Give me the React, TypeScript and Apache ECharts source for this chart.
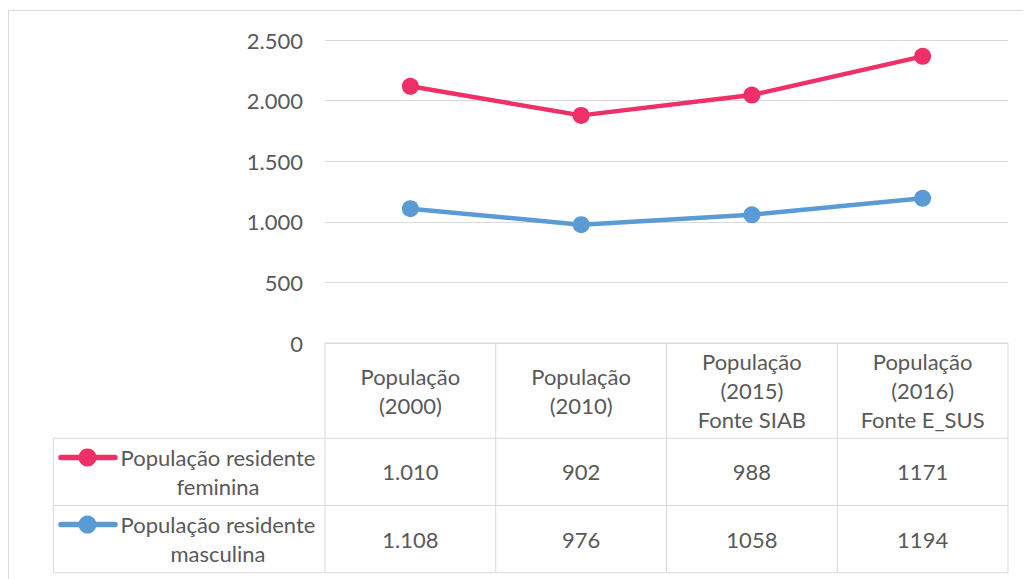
import React, { useEffect, useRef } from "react";
import * as echarts from "echarts";

const categories = [
  "População\n(2000)",
  "População\n(2010)",
  "População\n(2015)\nFonte SIAB",
  "População\n(2016)\nFonte E_SUS",
];
const feminina = [1010, 902, 988, 1171];
const masculina = [1108, 976, 1058, 1194];
// whether the source table shows a thousands separator for each column
const useSeparator = [true, true, false, false];
const femName = "População residente\nfeminina";
const mascName = "População residente\nmasculina";
const femColor = "#EE2F68";
const mascColor = "#5B9BD5";
const textColor = "#595959";
const lineColor = "#D9D9D9";
const FONT = "Lato";
const FS = 22;

const fmt = (v: number, sep: boolean) =>
  sep ? String(v).replace(/\B(?=(\d{3})+(?!\d))/g, ".") : String(v);

export default function App() {
  const ref = useRef<HTMLDivElement>(null);
  useEffect(() => {
    document.documentElement.style.overflow = "hidden";
    const chart = echarts.init(ref.current!, null, { renderer: "svg" });
    const gridLeft = 317;
    const gridTop = 32;
    const gridW = 683;
    const gridH = 303;
    const option: any = {
      animation: false,
      grid: { left: gridLeft, top: gridTop, width: gridW, height: gridH },
      xAxis: {
        type: "category",
        data: categories,
        boundaryGap: true,
        axisLine: { show: false },
        axisTick: { show: false },
        axisLabel: {
          interval: 0,
          margin: 47.5,
          verticalAlign: "middle",
          lineHeight: 29,
          color: textColor,
          fontFamily: FONT,
          fontSize: FS,
        },
      },
      yAxis: {
        type: "value",
        min: 0,
        max: 2500,
        interval: 500,
        axisLine: { show: false },
        axisTick: { show: false },
        splitLine: { lineStyle: { color: lineColor, width: 1 } },
        axisLabel: {
          margin: 22,
          color: textColor,
          fontFamily: FONT,
          fontSize: FS,
          formatter: (v: number) => fmt(v, true),
        },
      },
      series: [
        {
          name: mascName,
          type: "line",
          stack: "total",
          data: masculina,
          color: mascColor,
          symbol: "circle",
          symbolSize: 17,
          lineStyle: { width: 4.5, color: mascColor },
          itemStyle: { color: mascColor },
        },
        {
          name: femName,
          type: "line",
          stack: "total",
          data: feminina,
          color: femColor,
          symbol: "circle",
          symbolSize: 17,
          lineStyle: { width: 4.5, color: femColor },
          itemStyle: { color: femColor },
        },
      ],
    };
    chart.setOption(option);

    // table geometry
    const tableTop = gridTop + gridH;
    const headerBottom = 430.3;
    const rowH = 67.2;
    const legendLeft = 45.3;
    const centers = categories.map((_, i) =>
      chart.convertToPixel({ xAxisIndex: 0 }, i)
    );
    const band = centers.length > 1 ? centers[1] - centers[0] : gridW;
    const right = centers[centers.length - 1] + band / 2;
    const els: any[] = [];
    const ls = { stroke: lineColor, lineWidth: 1 };
    // outer chart border
    els.push({
      type: "rect",
      shape: { x: 0.5, y: 2.5, width: 1200, height: 800 },
      style: { fill: "none", stroke: lineColor, lineWidth: 1 },
      silent: true,
    });
    // table top line
    els.push({ type: "line", shape: { x1: gridLeft, y1: tableTop, x2: right, y2: tableTop }, style: ls });
    const rows = [
      { name: femName, color: femColor, data: feminina },
      { name: mascName, color: mascColor, data: masculina },
    ];
    const tableBottom = headerBottom + rowH * rows.length;
    // horizontal row lines
    for (let r = 0; r <= rows.length; r++) {
      const y = headerBottom + rowH * r;
      els.push({ type: "line", shape: { x1: legendLeft, y1: y, x2: right, y2: y }, style: ls });
    }
    // vertical lines
    centers.forEach((c) => {
      const x = c - band / 2;
      els.push({ type: "line", shape: { x1: x, y1: tableTop, x2: x, y2: tableBottom }, style: ls });
    });
    els.push({ type: "line", shape: { x1: right, y1: tableTop, x2: right, y2: tableBottom }, style: ls });
    els.push({ type: "line", shape: { x1: legendLeft, y1: headerBottom, x2: legendLeft, y2: tableBottom }, style: ls });

    rows.forEach((row, r) => {
      const cy = headerBottom + rowH * r + rowH / 2;
      // legend key
      const ky = cy - 14.5;
      els.push({
        type: "line",
        shape: { x1: 53, y1: ky, x2: 107, y2: ky },
        style: { stroke: row.color, lineWidth: 5.5, lineCap: "round" },
      });
      els.push({ type: "circle", shape: { cx: 79.5, cy: ky, r: 9 }, style: { fill: row.color } });
      els.push({
        type: "text",
        x: 210,
        y: cy,
        style: {
          text: row.name,
          fill: textColor,
          font: `${FS}px ${FONT}`,
          align: "center",
          verticalAlign: "middle",
          lineHeight: 29,
        },
      });
      row.data.forEach((v, i) => {
        els.push({
          type: "text",
          x: centers[i],
          y: cy,
          style: {
            text: fmt(v, useSeparator[i]),
            fill: textColor,
            font: `${FS}px ${FONT}`,
            align: "center",
            verticalAlign: "middle",
          },
        });
      });
    });
    chart.setOption({ graphic: { elements: els } });
    return () => chart.dispose();
  }, []);
  return <div ref={ref} style={{ width: 1022, height: 571 }} />;
}
